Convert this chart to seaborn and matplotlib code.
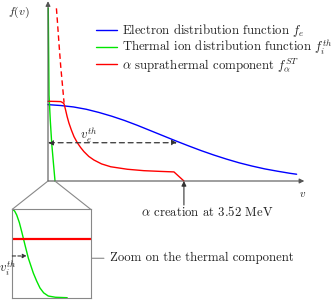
import matplotlib
matplotlib.use("Agg")
import matplotlib.pyplot as plt
import seaborn as sns
from matplotlib.patches import ConnectionPatch

# curves (v and f in arbitrary units)
v_elec = [0, 0.5, 1, 1.5, 2, 2.5, 3, 3.5, 4, 4.5, 5, 5.5, 6, 6.5, 7, 7.5, 8, 8.5, 9, 9.5, 9.75]
f_elec = [4.29, 4.24, 4.16, 4.03, 3.85, 3.64, 3.40, 3.13, 2.84, 2.55, 2.26, 1.98, 1.71, 1.46, 1.23,
          1.02, 0.84, 0.68, 0.55, 0.43, 0.38]

v_ion = [0.01, 0.04, 0.09, 0.145, 0.21, 0.275]
f_ion = [9.72, 4.83, 3.40, 2.13, 1.05, 0.0]

v_alpha = [0, 0.3, 0.5, 0.58, 0.63, 0.69, 0.75, 0.82, 0.92, 1.02, 1.15, 1.28, 1.41, 1.6, 1.80,
           2.1, 2.46, 3.11, 3.76, 4.40, 4.94, 5.33]
f_alpha = [4.48, 4.47, 4.46, 4.40, 4.33, 3.99, 3.62, 3.26, 2.85, 2.49, 2.15, 1.88, 1.65, 1.38, 1.18,
           0.96, 0.80, 0.66, 0.58, 0.54, 0.51, 0.0]

v_alpha_dash = [0.33, 0.365, 0.43, 0.50, 0.56, 0.63]
f_alpha_dash = [9.70, 9.04, 7.73, 6.42, 5.49, 4.40]

v_th_e = 5.06
v_birth = 5.33

# zoomed thermal part
x_zoom = [0.0, 0.03, 0.056, 0.09, 0.12, 0.162, 0.204, 0.268, 0.31, 0.353, 0.40, 0.459, 0.55, 0.70]
y_zoom = [1.0, 0.98, 0.936, 0.85, 0.747, 0.596, 0.449, 0.279, 0.19, 0.110, 0.055, 0.019, 0.005, 0.0]
alpha_zoom = 0.667
v_th_i = 0.184

labels = ["Electron distribution function $f_e$",
          "Thermal ion distribution function $f_i^{th}$",
          r"$\alpha$ suprathermal component $f_\alpha^{ST}$"]

sns.set_style("white")
plt.rcParams["font.family"] = ["cmr10", "DejaVu Serif"]
plt.rcParams["mathtext.fontset"] = "cm"
plt.rcParams["axes.unicode_minus"] = False

blue, green, red = "#0000ff", "#00e600", "#ff0000"
axis_col = "#555555"
txt_col = "#222222"
fs = 9.2

fig = plt.figure(figsize=(3.32, 3.0), dpi=100)
ax = fig.add_axes([48 / 332, 1 - 181 / 300, 255 / 332, 178 / 300])
ax.set_xlim(0, 10)
ax.set_ylim(0, 10)
ax.axis("off")

sns.lineplot(x=v_elec, y=f_elec, ax=ax, color=blue, lw=1.0, label=labels[0], clip_on=False)
sns.lineplot(x=v_ion, y=f_ion, ax=ax, color=green, lw=1.0, label=labels[1], clip_on=False)
sns.lineplot(x=v_alpha, y=f_alpha, ax=ax, color=red, lw=1.0, label=labels[2], clip_on=False)
sns.lineplot(x=v_alpha_dash, y=f_alpha_dash, ax=ax, color=red, lw=1.0, dashes=False,
             clip_on=False).lines[-1].set_dashes((4, 2.5))

# axes with arrows
ax.annotate("", xy=(10.05, 0), xytext=(0, 0), annotation_clip=False,
            arrowprops=dict(arrowstyle="-|>", color=axis_col, lw=0.8, mutation_scale=7,
                            shrinkA=0, shrinkB=0))
ax.annotate("", xy=(0, 10.1), xytext=(0, 0), annotation_clip=False,
            arrowprops=dict(arrowstyle="-|>", color=axis_col, lw=0.8, mutation_scale=7,
                            shrinkA=0, shrinkB=0))
ax.text(-1.16, 9.49, "$f(v)$", ha="center", va="center", fontsize=8.5, color=txt_col)
ax.text(9.97, -0.75, "$v$", ha="center", va="center", fontsize=8, color=txt_col)

# electron thermal velocity
ax.annotate("", xy=(v_th_e, 2.15), xytext=(0, 2.15), annotation_clip=False,
            arrowprops=dict(arrowstyle="<|-|>", color="#333333", lw=0.9, ls=(0, (4, 3)),
                            mutation_scale=7, shrinkA=0, shrinkB=0))
ax.text(1.25, 2.33, "$v_e^{th}$", ha="left", va="baseline", fontsize=fs, color=txt_col)

# alpha birth arrow
ax.annotate("", xy=(v_birth, 0), xytext=(v_birth, -1.35), annotation_clip=False,
            arrowprops=dict(arrowstyle="-|>", color="#333333", lw=0.8, mutation_scale=7,
                            shrinkA=0, shrinkB=0))
ax.text(6.24, -1.74, r"$\alpha$ creation at 3.52 MeV", ha="center", va="center",
        fontsize=fs, color=txt_col)

leg = ax.legend(loc="upper left", bbox_to_anchor=(96 / 332, 1 - 22 / 300),
                bbox_transform=fig.transFigure, frameon=False, fontsize=fs,
                handlelength=1.64, handletextpad=0.4, labelspacing=-0.1,
                borderpad=0, borderaxespad=0)
for t in leg.get_texts():
    t.set_color(txt_col)

# zoom inset
ax_in = fig.add_axes([12.3 / 332, 1 - 297.7 / 300, 78.4 / 332, 88.4 / 300])
ax_in.set_xlim(0, 1)
ax_in.set_ylim(0, 1)
ax_in.set_xticks([])
ax_in.set_yticks([])
for s in ax_in.spines.values():
    s.set_color("#888888")
    s.set_linewidth(0.8)
sns.lineplot(x=x_zoom, y=y_zoom, ax=ax_in, color=green, lw=1.0)
ax_in.axhline(alpha_zoom, color=red, lw=1.6)
ax_in.annotate("", xy=(v_th_i, 0.472), xytext=(0, 0.472),
               arrowprops=dict(arrowstyle="-|>", color="#333333", lw=0.8, ls=(0, (3, 2)),
                               mutation_scale=6, shrinkA=0, shrinkB=0))
ax_in.text(-0.055, 0.336, "$v_i^{th}$", ha="center", va="center", fontsize=fs,
           color=txt_col)
ax_in.annotate("Zoom on the thermal component", xy=(1.017, 0.446), xycoords="axes fraction",
               xytext=(1.246, 0.446), textcoords="axes fraction", ha="left", va="center",
               fontsize=fs, color=txt_col,
               arrowprops=dict(arrowstyle="-", color="#888888", lw=0.8, shrinkA=2, shrinkB=0))

for xa, xb in [(0, 0), (1, 0.27)]:
    con = ConnectionPatch(xyA=(xa, 1), coordsA=ax_in.transAxes, xyB=(xb, 0),
                          coordsB=ax.transData, color="#888888", lw=0.8)
    fig.add_artist(con)

fig.savefig("out.png", dpi=100)
